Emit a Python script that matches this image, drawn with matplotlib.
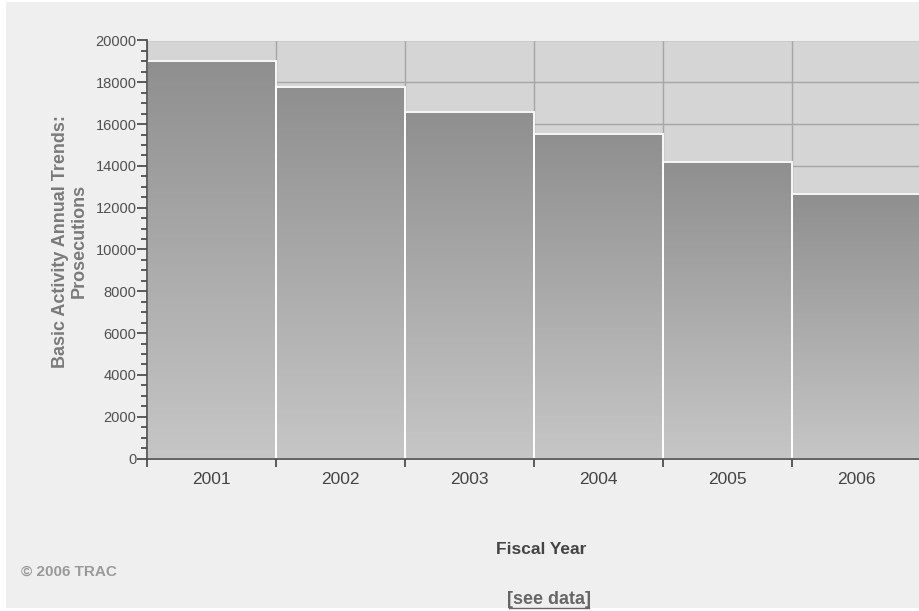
import matplotlib
matplotlib.use("Agg")
import matplotlib.pyplot as plt
import numpy as np
from matplotlib.patches import Rectangle
from matplotlib.lines import Line2D
from matplotlib.colors import LinearSegmentedColormap
from matplotlib.ticker import MultipleLocator, FixedLocator, NullFormatter, FixedFormatter

plt.rcParams['font.family'] = ['Liberation Sans', 'DejaVu Sans']

years = ["2001", "2002", "2003", "2004", "2005", "2006"]
prosecutions = [19000, 17760, 16590, 15550, 14170, 12660]

W, H = 920, 611
fig = plt.figure(figsize=(W / 100, H / 100), dpi=100)
fig.patch.set_facecolor('white')
fig.add_artist(Rectangle((6 / W, 3 / H), 1 - 6 / W, 1 - 5 / H, transform=fig.transFigure,
                         facecolor='#efefef', edgecolor='none', zorder=-10))

left, right = 147, 921
top, bottom = 40.5, 458.5
ax = fig.add_axes([left / W, 1 - bottom / H, (right - left) / W, (bottom - top) / H])
ax.set_facecolor('#d5d5d5')

x = np.arange(len(years)) + 0.5
bars = ax.bar(x, prosecutions, width=1.0, facecolor='none', edgecolor='white',
              linewidth=1.3, zorder=3)

cmap = LinearSegmentedColormap.from_list('bargrad', ['#c6c6c6', '#8f8f8f'])
grad = np.linspace(0, 1, 256).reshape(-1, 1)  # 0 bottom -> 1 top
for b in bars:
    bx, by = b.get_x(), b.get_y()
    bw, bh = b.get_width(), b.get_height()
    ax.imshow(grad, extent=[bx, bx + bw, by, by + bh], origin='lower',
              cmap=cmap, vmin=0, vmax=1, aspect='auto',
              interpolation='bilinear', zorder=2)

ax.set_xlim(0, len(years))
ax.set_ylim(0, 20000)

ax.yaxis.set_major_locator(MultipleLocator(2000))
ax.yaxis.set_minor_locator(MultipleLocator(500))
ax.xaxis.set_major_locator(FixedLocator(np.arange(len(years) + 1)))
ax.xaxis.set_major_formatter(NullFormatter())
ax.xaxis.set_minor_locator(FixedLocator(x))
ax.xaxis.set_minor_formatter(FixedFormatter(years))

ax.grid(True, which='major', color='#a6a6a6', linewidth=1.0, zorder=1)
ax.set_axisbelow(True)

for s in ['top', 'right']:
    ax.spines[s].set_visible(False)
for s in ['left', 'bottom']:
    ax.spines[s].set_color('#4a4a4a')
    ax.spines[s].set_linewidth(1.2)
    ax.spines[s].set_zorder(5)

ax.tick_params(axis='y', which='major', direction='out', length=7.5, width=1.1,
               color='#333333', labelsize=10.5, labelcolor='#505050', pad=0)
ax.tick_params(axis='y', which='minor', direction='out', length=4, width=1.1,
               color='#333333')
ax.tick_params(axis='x', which='major', direction='out', length=6, width=1.1,
               color='#333333')
ax.tick_params(axis='x', which='minor', length=0, labelsize=12.5,
               labelcolor='#444444', pad=10)

ax.set_ylabel("Basic Activity Annual Trends:\nProsecutions", fontsize=13, fontweight='bold',
              color='#7a7a7a', linespacing=1.1)
ax.yaxis.set_label_coords(-0.077, 0.52)

fig.text(541 / W, 1 - 550 / H, "Fiscal Year", ha='center', va='center',
         fontsize=12.5, fontweight='bold', color='#444444')
fig.text(21 / W, 1 - 572 / H, "\u00a9 2006 TRAC", ha='left', va='center',
         fontsize=11, fontweight='bold', color='#9a9a9a')
t = fig.text(549 / W, 1 - 600 / H, "[see data]", ha='center', va='center',
             fontsize=13, fontweight='bold', color='#666666')

fig.canvas.draw()
bb = t.get_window_extent(renderer=fig.canvas.get_renderer())
inv = fig.transFigure.inverted()
(x0, y0), (x1, y1) = inv.transform([(bb.x0 + 2, bb.y0 + 1), (bb.x1 - 2, bb.y0 + 1)])
fig.add_artist(Line2D([x0, x1], [y0, y1], transform=fig.transFigure, color='#666666',
                      linewidth=1.0))

fig.savefig("out.png", dpi=100, facecolor=fig.get_facecolor())
